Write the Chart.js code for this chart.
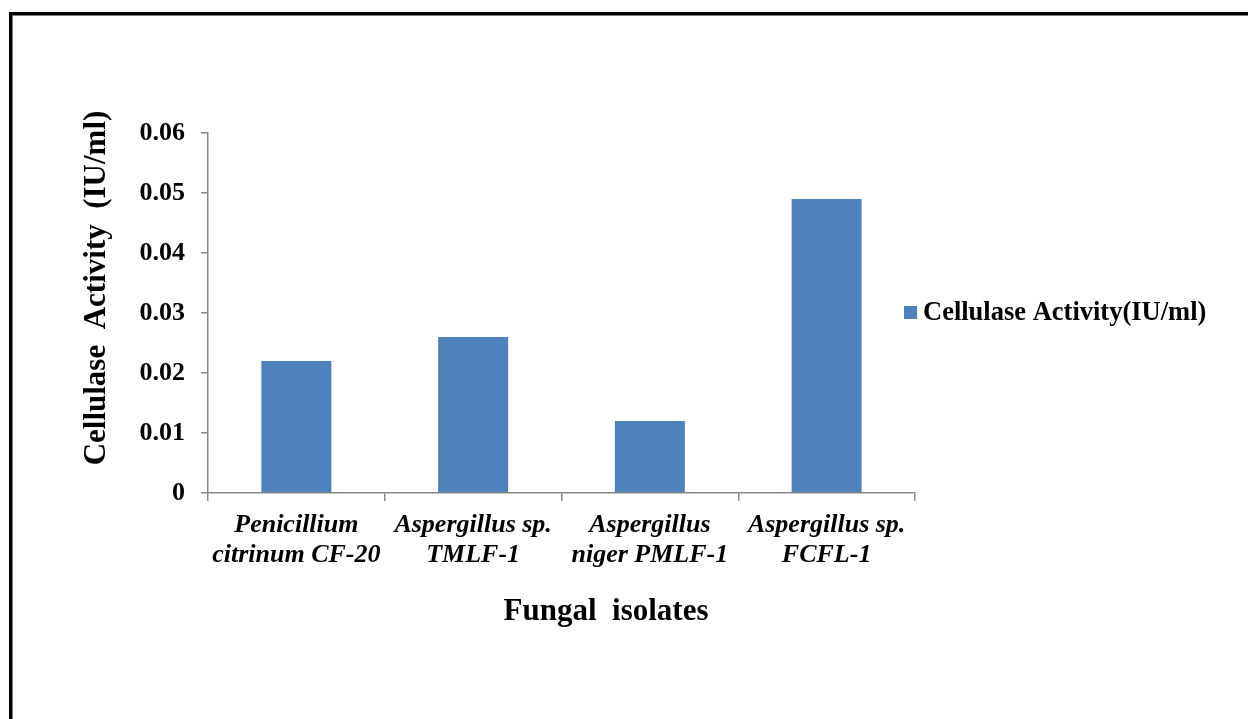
<!DOCTYPE html>
<html>
<head>
<meta charset="utf-8">
<title>Cellulase Activity of Fungal Isolates</title>
<script src="https://cdn.jsdelivr.net/npm/chart.js@4.4.1/dist/chart.umd.min.js"></script>
<style>
  html, body { margin: 0; padding: 0; background: #ffffff; }
  #wrap { position: relative; width: 1248px; height: 719px; }
  canvas { display: block; }
</style>
</head>
<body>
<div id="wrap"><canvas id="chart" width="1248" height="719"></canvas></div>
<script>
// Fungal isolates (two-line category labels)
const isolates = [
  ['Penicillium', 'citrinum CF-20'],
  ['Aspergillus sp.', 'TMLF-1'],
  ['Aspergillus', 'niger PMLF-1'],
  ['Aspergillus sp.', 'FCFL-1']
];
// Cellulase activity, IU/ml
const activity = [0.022, 0.026, 0.012, 0.049];
// Value axis ticks
const yTickValues = [0, 0.01, 0.02, 0.03, 0.04, 0.05, 0.06];
const yTickLabels = ['0', '0.01', '0.02', '0.03', '0.04', '0.05', '0.06'];

const seriesName = 'Cellulase Activity(IU/ml)';
const xTitle = 'Fungal  isolates';
const yTitle = 'Cellulase  Activity  (IU/ml)';

const SERIF = "'Liberation Serif', 'Times New Roman', Times, serif";
const BAR_COLOR = '#4f81bd';
const AXIS_COLOR = '#878787';

// White page with a black frame on the top and left edges
const framePlugin = {
  id: 'frame',
  beforeDraw(chart) {
    const ctx = chart.ctx;
    ctx.save();
    ctx.fillStyle = '#ffffff';
    ctx.fillRect(0, 0, chart.width, chart.height);
    ctx.fillStyle = '#000000';
    ctx.fillRect(9, 12, chart.width - 9, 3.5);
    ctx.fillRect(9, 12, 3.5, chart.height - 12);
    ctx.restore();
  }
};

// Axis titles
const titlesPlugin = {
  id: 'axisTitles',
  afterDraw(chart) {
    const ctx = chart.ctx;
    ctx.save();
    ctx.fillStyle = '#000000';
    ctx.font = 'bold 31px ' + SERIF;
    ctx.textAlign = 'center';
    ctx.textBaseline = 'middle';
    ctx.fillText(xTitle, 606, 612);
    ctx.translate(97, 288);
    ctx.rotate(-Math.PI / 2);
    ctx.fillText(yTitle, 0, 0);
    ctx.restore();
  }
};

// Legend entry on the right of the plot
const legendPlugin = {
  id: 'sideLegend',
  afterDraw(chart) {
    const ctx = chart.ctx;
    const ds = chart.data.datasets[0];
    ctx.save();
    ctx.fillStyle = ds.backgroundColor;
    ctx.fillRect(904, 306, 13, 13);
    ctx.fillStyle = '#000000';
    ctx.font = 'bold 26.5px ' + SERIF;
    ctx.textAlign = 'left';
    ctx.textBaseline = 'middle';
    ctx.fillText(ds.label, 923, 313);
    ctx.restore();
  }
};

new Chart(document.getElementById('chart'), {
  type: 'bar',
  data: {
    labels: isolates,
    datasets: [{
      label: seriesName,
      data: activity,
      backgroundColor: BAR_COLOR,
      borderWidth: 0,
      barPercentage: 0.396,
      categoryPercentage: 1.0
    }]
  },
  options: {
    responsive: false,
    devicePixelRatio: 1,
    animation: false,
    layout: { padding: { left: 0, top: 133, right: 333, bottom: 0 } },
    plugins: {
      legend: { display: false },
      tooltip: { enabled: false },
      title: { display: false }
    },
    scales: {
      x: {
        offset: true,
        grid: {
          offset: true,
          drawOnChartArea: false,
          drawTicks: true,
          tickLength: 8,
          color: AXIS_COLOR,
          lineWidth: 1.5
        },
        border: { display: true, color: AXIS_COLOR, width: 1.5 },
        ticks: {
          color: '#000000',
          padding: 9,
          maxRotation: 0,
          autoSkip: false,
          font: { family: SERIF, size: 26, style: 'italic', weight: 'bold', lineHeight: 1.155 }
        },
        afterFit(scale) { scale.height = 226; }
      },
      y: {
        min: 0,
        max: 0.06,
        afterBuildTicks(scale) {
          scale.ticks = yTickValues.map(v => ({ value: v }));
        },
        grid: {
          drawOnChartArea: false,
          drawTicks: true,
          tickLength: 7,
          color: AXIS_COLOR,
          lineWidth: 1.5
        },
        border: { display: true, color: AXIS_COLOR, width: 1.5 },
        ticks: {
          color: '#000000',
          padding: 16,
          font: { family: SERIF, size: 26, weight: 'bold' },
          callback(value, index) { return yTickLabels[index]; }
        },
        afterFit(scale) { scale.width = 208; }
      }
    }
  },
  plugins: [framePlugin, titlesPlugin, legendPlugin]
});
</script>
</body>
</html>
